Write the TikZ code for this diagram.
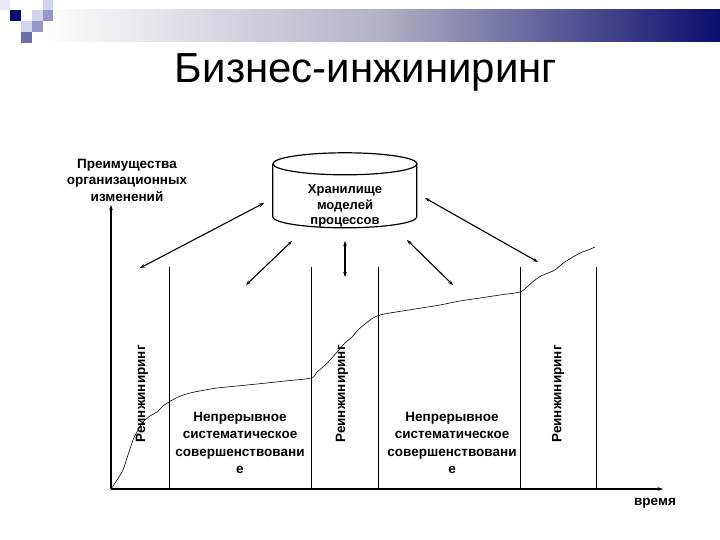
\documentclass[tikz,border=0pt]{standalone}
\usepackage{fontspec}
\setmainfont{Liberation Sans}
\usetikzlibrary{arrows.meta}

\definecolor{slidenavy}{RGB}{12,12,110}
\definecolor{slidemid}{RGB}{178,178,198}
\definecolor{sqlight}{RGB}{212,212,236}
\definecolor{sqmid}{RGB}{150,150,200}
\definecolor{sqdark}{RGB}{110,110,170}

\begin{document}
\begin{tikzpicture}[x=1pt, y=-1pt,
  every node/.style={font=\bfseries\fontsize{13.5}{16.5}\selectfont, align=center, inner sep=0pt},
  divider/.style={line width=0.8pt},
  axis/.style={line width=1.3pt, -{Stealth[length=5pt,width=3.5pt]}},
  link/.style={line width=1.1pt, {Stealth[length=5pt,width=3.5pt]}-{Stealth[length=5pt,width=3.5pt]}},
  growth/.style={line width=0.6pt},
  phase/.style={rotate=90},
  note/.style={font=\bfseries\fontsize{13.5}{17.5}\selectfont}]
  \useasboundingbox (0,0) rectangle (720,540);

  % header
  \shade[left color=white, right color=slidenavy, middle color=slidemid] (40,10) rectangle (720,42);
  \fill[sqlight!50] (0,0) rectangle (10,10);
  \fill[slidenavy] (10,10) rectangle (21,21);
  \fill[sqlight] (32,10) rectangle (43,21);
  \fill[sqmid] (43,10) rectangle (53,21);
  \fill[sqlight] (43,0) rectangle (53,10);
  \fill[sqlight] (21,21) rectangle (32,32);
  \fill[sqmid] (32,21) rectangle (43,32);
  \fill[sqdark] (21,32) rectangle (32,43);
  \node[font=\fontsize{42}{42}\selectfont] (title) at (366,83) [anchor=base] {Бизнес-инжиниринг};

  % storage
  \node[minimum width=144pt, minimum height=75pt] (store) at (345,190.5) {};
  \draw[line width=1.2pt] (store.north) ++(0,11) ellipse [x radius=72pt, y radius=11pt];
  \draw[line width=1.2pt] (store.north west) ++(0,11) -- ++(0,53)
    arc [start angle=180, end angle=360, x radius=72pt, y radius=11pt] -- ++(0,-53);
  \node[font=\bfseries\fontsize{13}{15.5}\selectfont] (storetext) at (345,206) {Хранилище\\моделей\\процессов};

  \node (gains) at (127,180) {Преимущества\\организационных\\изменений};

  % axes
  \coordinate (origin) at (111,489);
  \coordinate (ytop) at (111,205);
  \coordinate (xend) at (663,489);
  \draw[axis] (origin) -- (ytop);
  \draw[axis] (origin) -- (xend);
  \node (time) at (655,503) {время};

  \foreach \x [count=\i] in {169,311,378,520,596} {
    \coordinate (top\i) at (\x,267);
    \coordinate (bot\i) at (\x,489);
    \draw[divider] (top\i) -- (bot\i);
  }

  % growth curve
  \draw[growth] plot[smooth, tension=0.5] coordinates {(111,489) (117,480) (123,470) (128,455) (133,440)
    (138,430) (143,422) (150,416) (157,412) (163,406) (169,402) (178,397) (190,393) (205,390)
    (217,388) (237,386) (257,384) (285,381) (311,378) (317,372) (323,367) (330,360) (337,352)
    (345,343) (352,337) (358,330) (365,324) (373,318) (380,315) (390,313) (415,309) (440,305)
    (460,301) (480,298) (500,295) (520,292) (528,286) (535,280) (541,276) (548,273) (555,270)
    (562,264) (568,260) (573,257) (580,253) (588,250) (595,247)};

  \node[phase] (reeng1) at (142,394) {Реинжиниринг};
  \node[phase] (reeng2) at (342,394) {Реинжиниринг};
  \node[phase] (reeng3) at (558,394) {Реинжиниринг};
  \node[note] (kaizen1) at (240,443) {Непрерывное\\систематическое\\совершенствовани\\е};
  \node[note] (kaizen2) at (452,443) {Непрерывное\\систематическое\\совершенствовани\\е};

  % links to storage
  \coordinate (a1s) at (264,203); \coordinate (a1e) at (140,268);
  \coordinate (a2s) at (292,241); \coordinate (a2e) at (246,285);
  \coordinate (a3s) at (345,241); \coordinate (a3e) at (345,277);
  \coordinate (a4s) at (407,240); \coordinate (a4e) at (453,285);
  \coordinate (a5s) at (425,198); \coordinate (a5e) at (538,262);
  \foreach \i in {1,...,5}
    \draw[link] (a\i s) -- (a\i e);
\end{tikzpicture}
\end{document}
